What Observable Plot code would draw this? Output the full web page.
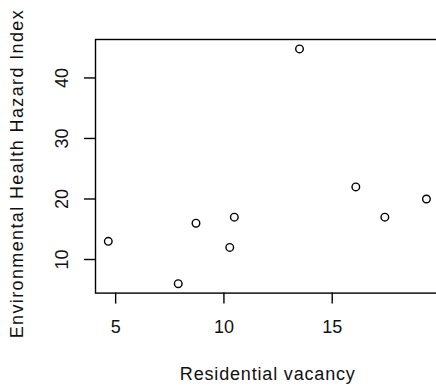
<!DOCTYPE html>
<html><head><meta charset="utf-8">
<script src="https://cdn.jsdelivr.net/npm/d3@7"></script>
<script src="https://cdn.jsdelivr.net/npm/@observablehq/plot@0.6"></script>
<style>html,body{margin:0;padding:0;overflow:hidden;background:#fff} svg{max-width:none !important;}</style>
</head><body><div id="chart"></div>
<script>
const vacancy = [4.66, 7.89, 8.71, 10.27, 10.48, 13.49, 16.09, 17.43, 19.35];
const hazard = [13, 6, 16, 12, 17, 44.8, 22, 17, 20];
const xTicks = [5, 10, 15];
const yTicks = [10, 20, 30, 40];
const xTitle = "Residential vacancy";
const yTitle = "Environmental Health Hazard Index";

const points = vacancy.map((v, i) => ({vacancy: v, hazard: hazard[i]}));
const font = "Liberation Sans, Arial, sans-serif";

const chart = Plot.plot({
  width: 446, height: 386,
  marginLeft: 95, marginRight: 7.3, marginTop: 39, marginBottom: 93.4,
  style: {fontFamily: font, fontSize: "18px", color: "#000", background: "#fff", overflow: "visible", maxWidth: "none"},
  x: {domain: [4.07, 19.94], axis: null},
  y: {domain: [4.45, 46.35], axis: null},
  marks: [
    Plot.frame({stroke: "#000", strokeWidth: 1.4}),
    Plot.axisX(xTicks, {ticks: xTicks, tickSize: 11, tickPadding: 0, tickFormat: d => "", strokeWidth: 1.4, label: null}),
    Plot.text(xTicks, {x: d => d, text: d => String(d), frameAnchor: "bottom", textAnchor: "middle", lineAnchor: "middle", dy: 34.5, fontSize: 18, fill: "#111"}),
    Plot.axisY(yTicks, {ticks: yTicks, tickSize: 11, tickPadding: 0, tickFormat: d => "", strokeWidth: 1.4, label: null}),
    Plot.text(yTicks, {y: d => d, text: d => String(d), frameAnchor: "left", textAnchor: "middle", lineAnchor: "middle", dx: -33, rotate: -90, fontSize: 18, fill: "#111"}),
    Plot.text([xTitle], {frameAnchor: "bottom", textAnchor: "middle", lineAnchor: "middle", dy: 81, fontSize: 18, fill: "#111"}),
    Plot.text([yTitle], {frameAnchor: "left", textAnchor: "middle", lineAnchor: "middle", dx: -78, dy: 8, rotate: -90, fontSize: 18, fill: "#111"}),
    Plot.dot(points, {x: "vacancy", y: "hazard", r: 3.8, stroke: "#000", strokeWidth: 1.4, fill: "none"})
  ]
});
// match the wider glyph spacing of the reference's text renderer
d3.select(chart).selectAll("text").each(function() {
  const t = this.textContent;
  if (t === xTitle) { this.setAttribute("textLength", 175); this.setAttribute("lengthAdjust", "spacing"); }
  if (t === yTitle) { this.setAttribute("textLength", 328); this.setAttribute("lengthAdjust", "spacing"); }
});
document.getElementById("chart").appendChild(chart);
</script>
</body></html>
